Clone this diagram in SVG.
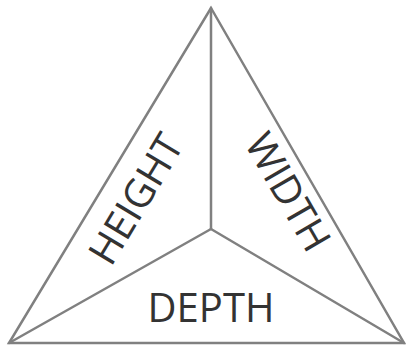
<svg xmlns="http://www.w3.org/2000/svg" width="408" height="347" viewBox="0 0 408 347">
<style>
.edge{fill:none;stroke:#808080;stroke-width:2.5;stroke-linejoin:miter;stroke-linecap:round}
.lbl{font-family:"Open Sans","Liberation Sans",sans-serif;font-size:40px;fill:#333333;text-anchor:middle}
</style>
<rect width="408" height="347" fill="#ffffff"/>
<g id="connectors">
<polygon class="edge" points="211,8 404,343 9,343"/>
<line class="edge" x1="211" y1="8" x2="211" y2="229"/>
<line class="edge" x1="211" y1="229" x2="9" y2="343"/>
<line class="edge" x1="211" y1="229" x2="404" y2="343"/>
</g>
<g id="height"><text class="lbl" transform="translate(136,199) rotate(-59)" y="14">HEIGHT</text></g>
<g id="width"><text class="lbl" transform="translate(288,192) rotate(60)" y="14">WIDTH</text></g>
<g id="depth"><text class="lbl" x="211" y="322">DEPTH</text></g>
</svg>
